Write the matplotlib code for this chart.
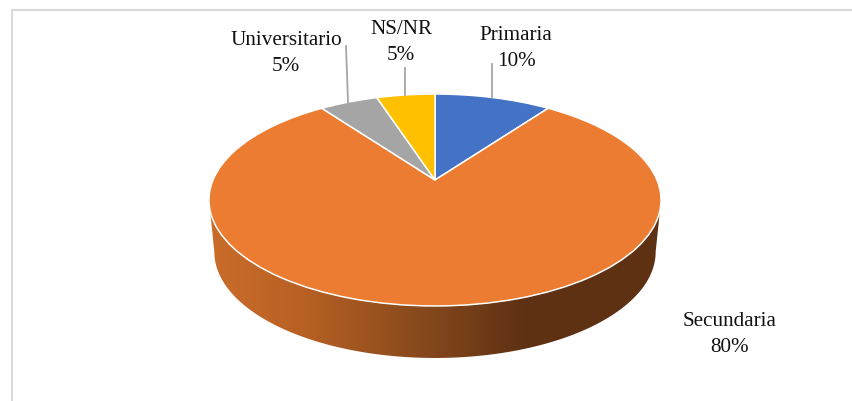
import numpy as np
import matplotlib
matplotlib.use('Agg')
import matplotlib.pyplot as plt
from matplotlib.colors import LinearSegmentedColormap
from matplotlib.patches import Polygon
from matplotlib.transforms import Transform

plt.rcParams['font.family'] = ['Liberation Serif', 'DejaVu Serif']

categories = ['Primaria', 'Secundaria', 'Universitario', 'NS/NR']
values = [10, 80, 5, 5]
colors = ['#4472C4', '#EB7C31', '#A5A5A5', '#FFC000']

# pie geometry in pixels, the tilt makes the apex sit above the ellipse centre
CX, CY = 435, 181
A, B, K = 222, 102.2, 0.1887
DEPTH = 52


class Tilt(Transform):
    input_dims = output_dims = 2
    has_inverse = False

    def transform_non_affine(self, xy):
        xy = np.asarray(xy)
        w = 1 + K * xy[:, 1]
        return np.column_stack([CX + A * xy[:, 0] / w, CY - B * xy[:, 1] / w])


def rim(theta, shrink=1.0, drop=0):
    w = 1 + K * np.sin(theta)
    return np.column_stack([CX + shrink * A * np.cos(theta) / w,
                            CY + drop - B * np.sin(theta) / w])


fig = plt.figure(figsize=(8.52, 4.02), dpi=100)
ax = fig.add_axes([0, 0, 1, 1])

# side wall with its left-right shading
t0 = np.arcsin(K)
theta = np.linspace(np.pi + t0, 2 * np.pi - t0, 200)
wall = np.vstack([rim(theta), rim(theta[::-1], shrink=0.976, drop=DEPTH)])
shade = LinearSegmentedColormap.from_list('wall', [
    (0.0, '#C96C2A'), (0.2, '#B86124'), (0.48, '#85481C'),
    (0.7, '#5F3113'), (1.0, '#5F3113')])
im = ax.imshow(np.linspace(0, 1, 64).reshape(1, -1), cmap=shade, aspect='auto',
               extent=(209, 661, 370, 190), interpolation='bilinear', zorder=1)
clip = Polygon(wall, closed=True, transform=ax.transData, fc='none', ec='none')
ax.add_patch(clip)
im.set_clip_path(clip)

wedges, _ = ax.pie(values, colors=colors, startangle=90, counterclock=False,
                   radius=1, wedgeprops={'edgecolor': 'white', 'linewidth': 1.1})
tilt = Tilt() + ax.transData
for w in wedges:
    w.set_transform(tilt)
    w.set_zorder(2)

ax.set_aspect('auto')
ax.set_xlim(0, 852)
ax.set_ylim(402, 0)
ax.axis('off')

# leader lines
ax.plot([346, 348], [47, 103], color='#A6A6A6', lw=1.3, zorder=3)
ax.plot([405, 405], [69, 96], color='#A6A6A6', lw=1.3, zorder=3)
ax.plot([492, 492], [65, 98], color='#A6A6A6', lw=1.3, zorder=3)

# labels
label_pos = {'Primaria': (516, 48.5), 'Secundaria': (730, 334.5),
             'Universitario': (286, 53.5), 'NS/NR': (401, 42.5)}
for c, v in zip(categories, values):
    x, y = label_pos[c]
    ax.text(x, y, f'{c}\n{v}%', ha='center', va='center', fontsize=15.2,
            color='#111111', linespacing=1.45, zorder=4)

# chart frame, only top and left fall inside the crop
ax.plot([852, 12, 12], [11, 11, 402], color='#D9D9D9', lw=1.5, zorder=0,
        solid_joinstyle='miter')

fig.savefig('out.png', dpi=100, facecolor='white')
